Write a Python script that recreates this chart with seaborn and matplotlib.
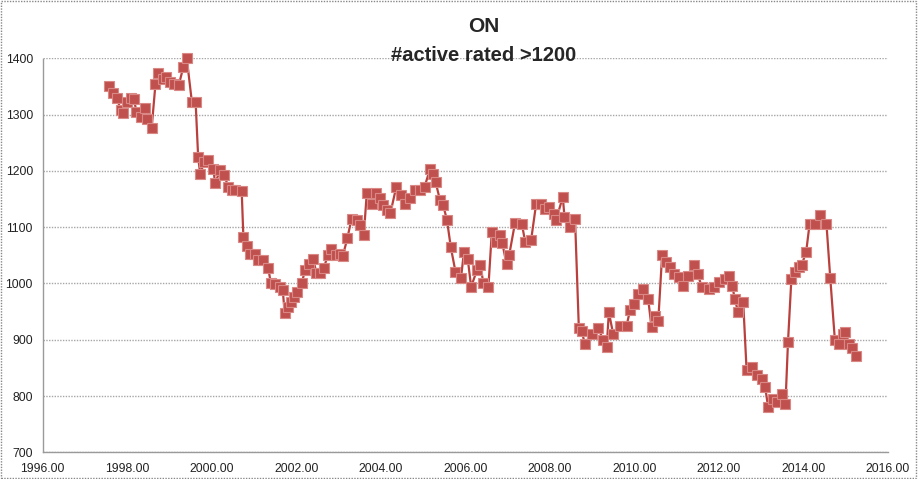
import numpy as np
import pandas as pd
import matplotlib
matplotlib.use('Agg')
import matplotlib.pyplot as plt
from matplotlib.patches import Rectangle
import seaborn as sns

# values (decimal year, count of active players rated >1200)
years = [1997.57, 1997.67, 1997.75, 1997.85, 1997.91, 1997.99, 1998.08, 1998.16, 1998.22, 1998.33,
         1998.41, 1998.46, 1998.58, 1998.67, 1998.74, 1998.85, 1998.93, 1999.01, 1999.10, 1999.22,
         1999.33, 1999.41, 1999.53, 1999.62, 1999.68, 1999.73, 1999.82, 1999.91, 2000.04, 2000.08,
         2000.20, 2000.30, 2000.39, 2000.48, 2000.56, 2000.71, 2000.75, 2000.83, 2000.90, 2001.03,
         2001.10, 2001.22, 2001.34, 2001.40, 2001.50, 2001.62, 2001.68, 2001.73, 2001.80, 2001.87,
         2001.95, 2002.02, 2002.13, 2002.21, 2002.30, 2002.40, 2002.48, 2002.56, 2002.65, 2002.75,
         2002.83, 2002.95, 2003.03, 2003.10, 2003.21, 2003.31, 2003.43, 2003.50, 2003.60, 2003.67,
         2003.79, 2003.90, 2003.98, 2004.06, 2004.14, 2004.23, 2004.37, 2004.49, 2004.57, 2004.69,
         2004.81, 2004.92, 2005.04, 2005.17, 2005.23, 2005.30, 2005.40, 2005.48, 2005.57, 2005.66,
         2005.77, 2005.90, 2005.97, 2006.06, 2006.14, 2006.28, 2006.36, 2006.43, 2006.55, 2006.63,
         2006.74, 2006.82, 2006.88, 2006.98, 2007.04, 2007.18, 2007.34, 2007.42, 2007.56, 2007.68,
         2007.80, 2007.88, 2007.98, 2008.10, 2008.15, 2008.31, 2008.35, 2008.47, 2008.60, 2008.69,
         2008.76, 2008.83, 2008.99, 2009.15, 2009.27, 2009.35, 2009.40, 2009.50, 2009.66, 2009.82,
         2009.90, 2010.00, 2010.10, 2010.21, 2010.33, 2010.41, 2010.49, 2010.57, 2010.66, 2010.76,
         2010.84, 2010.95, 2011.07, 2011.15, 2011.27, 2011.41, 2011.50, 2011.60, 2011.76, 2011.88,
         2012.01, 2012.15, 2012.25, 2012.32, 2012.38, 2012.46, 2012.58, 2012.66, 2012.78, 2012.90,
         2013.02, 2013.10, 2013.17, 2013.29, 2013.37, 2013.49, 2013.58, 2013.64, 2013.72, 2013.80,
         2013.89, 2013.96, 2014.07, 2014.15, 2014.27, 2014.39, 2014.55, 2014.64, 2014.75, 2014.85,
         2014.94, 2015.00, 2015.08, 2015.16, 2015.24]
active = [1350, 1339, 1329, 1309, 1302, 1323, 1329, 1327, 1305, 1296,
          1311, 1293, 1277, 1355, 1373, 1364, 1367, 1358, 1355, 1352,
          1385, 1400, 1323, 1322, 1224, 1194, 1216, 1219, 1204, 1178,
          1201, 1192, 1172, 1166, 1166, 1165, 1082, 1066, 1053, 1053,
          1041, 1041, 1027, 1000, 999, 994, 989, 947, 959, 967,
          976, 985, 1000, 1024, 1035, 1044, 1018, 1018, 1027, 1050,
          1062, 1050, 1053, 1048, 1080, 1115, 1112, 1104, 1086, 1160,
          1142, 1160, 1151, 1139, 1130, 1125, 1172, 1157, 1142, 1151,
          1166, 1166, 1172, 1204, 1195, 1180, 1149, 1139, 1112, 1064,
          1021, 1009, 1056, 1044, 994, 1024, 1033, 1000, 994, 1092,
          1074, 1086, 1071, 1034, 1050, 1108, 1106, 1074, 1077, 1142,
          1141, 1133, 1136, 1124, 1112, 1154, 1118, 1100, 1114, 920,
          915, 893, 911, 920, 899, 887, 949, 911, 925, 925,
          952, 964, 982, 991, 973, 922, 943, 934, 1050, 1038,
          1029, 1017, 1011, 996, 1014, 1032, 1017, 994, 991, 994,
          1002, 1008, 1014, 996, 973, 949, 967, 846, 851, 837,
          831, 816, 780, 795, 789, 804, 786, 896, 1008, 1020,
          1029, 1032, 1056, 1105, 1105, 1121, 1106, 1010, 899, 893,
          911, 914, 893, 885, 871]

x_ticks = np.arange(1996, 2017, 2)
y_ticks = np.arange(700, 1401, 100)

df = pd.DataFrame({'year': years, 'active': active})

sns.set_style('white')
plt.rcParams['font.family'] = ['Liberation Sans', 'DejaVu Sans']

fig = plt.figure(figsize=(9.18, 4.79), dpi=100)
ax = fig.add_axes([0.0465, 0.0557, 0.9205, 0.8226])

sns.lineplot(data=df, x='year', y='active', ax=ax, sort=False, color='#B9403D',
             linewidth=1.6, marker='s', markersize=7.5, markerfacecolor='#C0504D',
             markeredgecolor='#D98886', markeredgewidth=0.8, clip_on=False, zorder=3)

ax.set_xlim(1996, 2016)
ax.set_ylim(700, 1400)
ax.set_xticks(x_ticks)
ax.set_xticklabels([f'{t:.2f}' for t in x_ticks])
ax.set_yticks(y_ticks)
ax.set_xlabel('')
ax.set_ylabel('')

# Excel-like dotted grid and axis lines
ax.grid(True, axis='y', color='#A6A6A6', linestyle=(0, (1, 1)), linewidth=1)
ax.grid(False, axis='x')
ax.set_axisbelow(True)
for side in ['top', 'right']:
    ax.spines[side].set_visible(False)
for side in ['left', 'bottom']:
    ax.spines[side].set_color('#9A9A9A')
    ax.spines[side].set_linestyle((0, (1, 1)))
    ax.spines[side].set_linewidth(1)
ax.tick_params(axis='x', direction='in', length=3, color='#9A9A9A', labelsize=8.8,
               labelcolor='#222222', pad=8)
ax.tick_params(axis='y', direction='out', length=3, color='#9A9A9A', labelsize=8.8,
               labelcolor='#222222', pad=4)

fig.text(0.527, 0.944, 'ON', ha='center', va='center', fontsize=15, fontweight='bold')
fig.text(0.527, 0.885, '#active rated >1200', ha='center', va='center', fontsize=14.5,
         fontweight='bold')

# dotted frame around the whole chart
fig.patches.append(Rectangle((0.001, 0.002), 0.997, 0.996, transform=fig.transFigure,
                             fill=False, edgecolor='#888888', linestyle=(0, (1, 1)),
                             linewidth=1))

fig.savefig('out.png', dpi=100)
